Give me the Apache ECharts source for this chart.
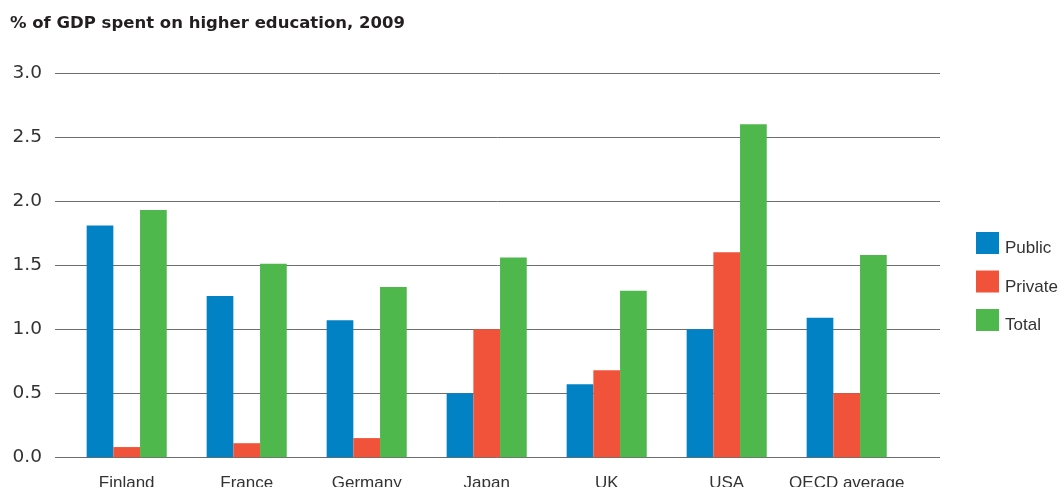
<!DOCTYPE html>
<html>
<head>
<meta charset="utf-8">
<script src="https://cdn.jsdelivr.net/npm/echarts@6/dist/echarts.min.js"></script>
<style>
  html, body { margin: 0; padding: 0; background: #fff; }
  #chart { width: 1060px; height: 487px; }
</style>
</head>
<body>
<div id="chart"></div>
<script>
// Spending on higher education as % of GDP, 2009
const countries = ['Finland', 'France', 'Germany', 'Japan', 'UK', 'USA', 'OECD average'];
const publicSpend  = [1.81, 1.26, 1.07, 0.50, 0.57, 1.00, 1.09];
const privateSpend = [0.08, 0.11, 0.15, 1.00, 0.68, 1.60, 0.50];
const totalSpend   = [1.93, 1.51, 1.33, 1.56, 1.30, 2.60, 1.58];
const seriesNames  = ['Public', 'Private', 'Total'];
const yTicks = [0, 0.5, 1.0, 1.5, 2.0, 2.5, 3.0];

const FONT = 'Liberation Sans, Arial, sans-serif';
const WIDE = 'DejaVu Sans, Liberation Sans, sans-serif';
const colors = ['#0082c4', '#f0533a', '#4fb84d'];

const chart = echarts.init(document.getElementById('chart'), null, { renderer: 'canvas' });

const gridTop = 73, gridBottom = 487 - 457.3;

chart.setOption({
  animation: false,
  color: colors,
  title: {
    text: '% of GDP spent on higher education, 2009',
    left: 10, top: 15, padding: 0,
    textStyle: { fontFamily: WIDE, fontSize: 16.5, fontWeight: 'bold', color: '#231f20' }
  },
  legend: {
    orient: 'vertical',
    left: 976, top: 232, padding: 0,
    itemWidth: 23, itemHeight: 22, itemGap: 13.5,
    icon: 'rect',
    data: seriesNames,
    formatter: name => '{t|' + name + '}',
    textStyle: {
      rich: { t: { fontFamily: FONT, fontSize: 17, color: '#333', padding: [11, 0, 0, 1] } }
    }
  },
  grid: [
    // gridlines and value labels span the full width
    { left: 55, width: 885, top: gridTop, bottom: gridBottom, outerBoundsMode: 'none' },
    // bars sit in a slightly inset category band
    { left: 66.7, width: 840, top: gridTop, bottom: gridBottom, outerBoundsMode: 'none' }
  ],
  xAxis: [
    { gridIndex: 0, type: 'value', min: 0, max: 1, show: false },
    {
      gridIndex: 1, type: 'category', data: countries,
      axisLine: { show: false }, axisTick: { show: false },
      axisLabel: { interval: 0, fontFamily: FONT, fontSize: 17, color: '#333', margin: 18 }
    }
  ],
  yAxis: [
    {
      gridIndex: 0, type: 'value', min: 0, max: 3, interval: 0.5,
      axisLine: { show: false }, axisTick: { show: false },
      axisLabel: {
        fontFamily: WIDE, fontSize: 18.5, color: '#333', margin: 13,
        formatter: v => yTicks.includes(v) ? v.toFixed(1) : ''
      },
      splitLine: { lineStyle: { color: '#6d6d6d', width: 1 } }
    },
    {
      gridIndex: 1, type: 'value', min: 0, max: 3, interval: 0.5,
      show: false, splitLine: { show: false }
    }
  ],
  series: [
    { name: 'Public',  type: 'bar', xAxisIndex: 1, yAxisIndex: 1, data: publicSpend,  barWidth: 26.7, barGap: '0%' },
    { name: 'Private', type: 'bar', xAxisIndex: 1, yAxisIndex: 1, data: privateSpend, barWidth: 26.7, barGap: '0%' },
    { name: 'Total',   type: 'bar', xAxisIndex: 1, yAxisIndex: 1, data: totalSpend,   barWidth: 26.7, barGap: '0%' }
  ]
});
</script>
</body>
</html>
